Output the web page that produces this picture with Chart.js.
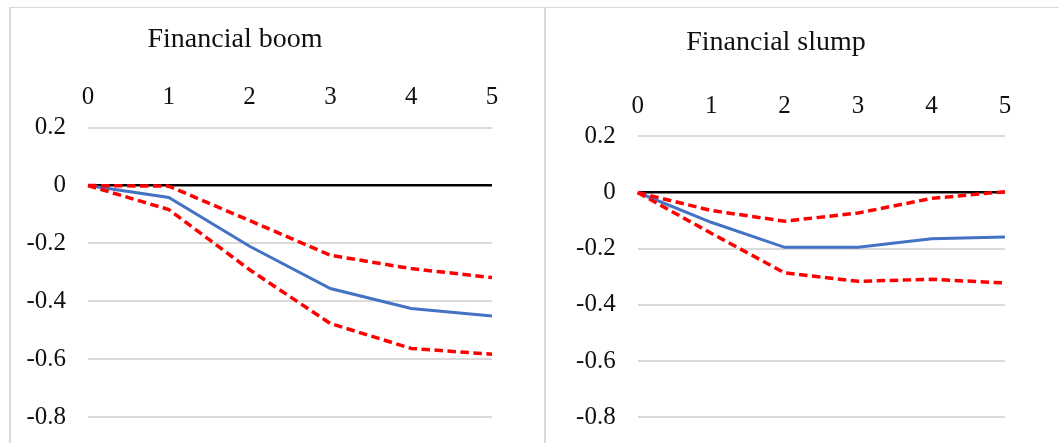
<!DOCTYPE html>
<html>
<head>
<meta charset="utf-8">
<script src="https://cdn.jsdelivr.net/npm/chart.js@4.4.1/dist/chart.umd.min.js"></script>
<style>
  html, body { margin: 0; padding: 0; background: #ffffff; }
  body { width: 1059px; height: 443px; position: relative; overflow: hidden; }
  .panel { position: absolute; box-sizing: border-box; border: 0 solid #d9d9d9; }
  #panelBoom  { left: 9px;   top: 7px; width: 536px; height: 460px; border-width: 1.5px 1.5px 0 2px; }
  #panelSlump { left: 544px; top: 7px; width: 530px; height: 460px; border-width: 1.5px 0 0 2px; }
  canvas { position: absolute; }
  #boom  { left: 10px;  top: 8px; }
  #slump { left: 547px; top: 8px; }
  .title {
    position: absolute; width: 320px; text-align: center;
    font-family: "Liberation Serif", "Times New Roman", serif;
    font-size: 28px; line-height: 28px; color: #111;
  }
  #titleBoom  { left: 75px;  top: 24px; }
  #titleSlump { left: 616px; top: 27px; }
</style>
</head>
<body>
<div class="panel" id="panelBoom"></div>
<div class="panel" id="panelSlump"></div>
<canvas id="boom" width="533" height="435"></canvas>
<canvas id="slump" width="512" height="435"></canvas>
<div class="title" id="titleBoom">Financial boom</div>
<div class="title" id="titleSlump">Financial slump</div>

<script>
// Horizon (periods after the shock)
const horizons = ['0', '1', '2', '3', '4', '5'];

// Y-axis tick labels, bottom to top
const yTickLabels = ['-0.8', '-0.6', '-0.4', '-0.2', '0', '0.2'];

// Financial boom: point estimate and confidence bands
const boomMean  = [0, -0.041, -0.210, -0.356, -0.425, -0.451];
const boomUpper = [0, -0.002, -0.121, -0.241, -0.287, -0.318];
const boomLower = [0, -0.083, -0.291, -0.477, -0.563, -0.583];

// Financial slump: point estimate and confidence bands
const slumpMean  = [0, -0.106, -0.195, -0.195, -0.165, -0.158];
const slumpUpper = [0, -0.064, -0.102, -0.073, -0.021, 0.003];
const slumpLower = [0, -0.145, -0.286, -0.316, -0.309, -0.322];

const FONT = { family: '"Liberation Serif", "Times New Roman", serif', size: 25 };

function makeChart(id, mean, upper, lower, box) {
  const dashed = (data) => ({
    data,
    borderColor: '#ff0000',
    borderWidth: 3.5,
    borderDash: [8.5, 4.5],
    pointRadius: 0,
    tension: 0,
    fill: false
  });
  return new Chart(document.getElementById(id), {
    type: 'line',
    data: {
      labels: horizons,
      datasets: [
        dashed(upper),
        dashed(lower),
        {
          data: mean,
          borderColor: '#4472c4',
          borderWidth: 3,
          pointRadius: 0,
          tension: 0,
          fill: false
        }
      ]
    },
    options: {
      responsive: false,
      animation: false,
      events: [],
      layout: { padding: { left: 0, top: 0, right: box.right, bottom: box.bottom } },
      plugins: { legend: { display: false }, tooltip: { enabled: false }, title: { display: false } },
      scales: {
        x: {
          type: 'category',
          position: 'top',
          offset: false,
          grid: { display: false },
          border: { display: false },
          ticks: { color: '#111', font: FONT, padding: 7, maxRotation: 0, autoSkip: false },
          afterFit: (s) => { s.height = box.top; s.paddingLeft = 0; s.paddingRight = 0; }
        },
        y: {
          min: -0.8,
          max: 0.2,
          border: { display: false },
          grid: {
            drawTicks: false,
            color: (c) => (Math.abs(c.tick.value) < 1e-9 ? '#000000' : '#dadada'),
            lineWidth: (c) => (Math.abs(c.tick.value) < 1e-9 ? 2.5 : 2)
          },
          ticks: {
            stepSize: 0.2,
            color: '#111',
            font: FONT,
            padding: 22,
            callback: (v, i) => yTickLabels[i]
          },
          afterFit: (s) => { s.width = box.left; s.paddingTop = 0; s.paddingBottom = 0; }
        }
      }
    }
  });
}

makeChart('boom',  boomMean,  boomUpper,  boomLower,  { left: 78,   top: 119.7, right: 51, bottom: 26 });
makeChart('slump', slumpMean, slumpUpper, slumpLower, { left: 90.7, top: 128.3, right: 54, bottom: 25.7 });
</script>
</body>
</html>
